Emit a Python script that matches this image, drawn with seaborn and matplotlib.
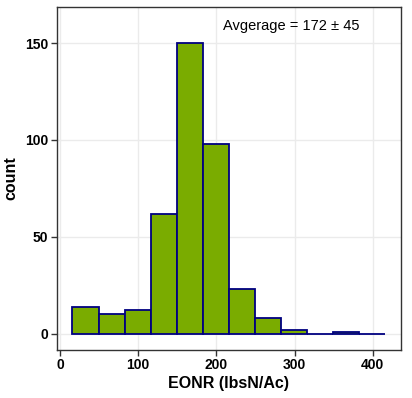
import pandas as pd
import seaborn as sns
import matplotlib.pyplot as plt

# Histogram of EONR values (counts)
bin_start = 16
bin_width = 33.33
counts = [14, 10, 12, 62, 150, 98, 23, 8, 2, 0, 1, 0]
x_ticks = [0, 100, 200, 300, 400]
y_ticks = [0, 50, 100, 150]
label_text = "Avgerage = 172 \u00b1 45"

edges = [bin_start + bin_width * i for i in range(len(counts) + 1)]
df = pd.DataFrame({
    "eonr": [(a + b) / 2 for a, b in zip(edges[:-1], edges[1:])],
    "n": counts,
})

sns.set_style("whitegrid")
plt.rcParams['font.family'] = ['Liberation Sans', 'DejaVu Sans']

fig = plt.figure(figsize=(4.12, 3.98), dpi=100)
ax = fig.add_axes([0.138, 0.121, 0.835, 0.861])

sns.histplot(data=df, x="eonr", weights="n", bins=edges, ax=ax,
             color="#7aac00", edgecolor="#000080", linewidth=1.3, alpha=1)

ax.set_xlim(-4, 436)
ax.set_ylim(-8.3, 168.5)
ax.set_xticks(x_ticks)
ax.set_yticks(y_ticks)
ax.grid(True, color="#ebebeb", linewidth=1.0)
ax.set_axisbelow(True)
for s in ax.spines.values():
    s.set_color("#333333")
    s.set_linewidth(1.0)
ax.tick_params(axis='both', length=4, width=1, color="#333333", labelsize=10,
               labelcolor="black", bottom=True, left=True, pad=2)
for lab in ax.get_xticklabels() + ax.get_yticklabels():
    lab.set_fontweight('bold')

ax.set_xlabel("EONR (lbsN/Ac)", fontsize=11.5, fontweight='bold', color='black', labelpad=3)
ax.set_ylabel("count", fontsize=11.5, fontweight='bold', color='black', labelpad=5)

ax.text(296, 159, label_text, ha='center', va='center', fontsize=10.5, color='black')

fig.savefig("out.png", dpi=100)
